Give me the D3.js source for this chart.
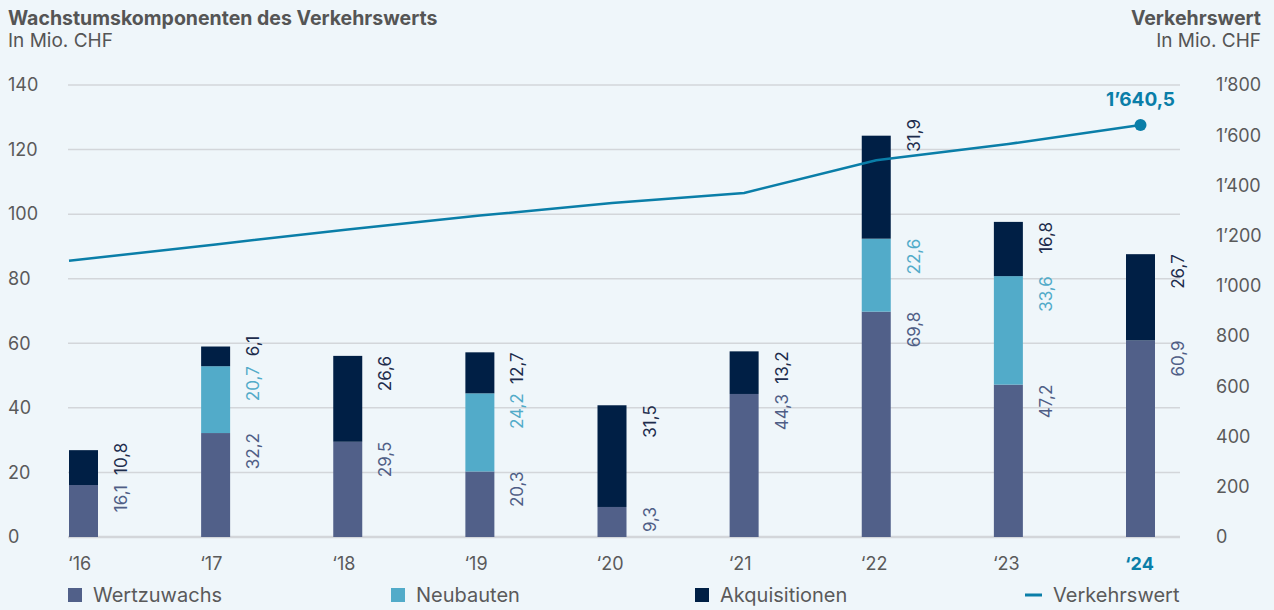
<!DOCTYPE html>
<html>
<head>
<meta charset="utf-8">
<script src="https://cdn.jsdelivr.net/npm/d3@7"></script>
<style>
  html, body { margin: 0; padding: 0; background: #eff6fa; }
  svg { display: block; font-family: Inter, "Noto Sans", sans-serif; }
</style>
</head>
<body>
<svg id="chart" width="1274" height="610"></svg>
<script>
// ---------- data ----------
const years = ["‘16", "‘17", "‘18", "‘19", "‘20", "‘21", "‘22", "‘23", "‘24"];
const wertzuwachs   = [16.1, 32.2, 29.5, 20.3, 9.3, 44.3, 69.8, 47.2, 60.9];
const neubauten     = [0, 20.7, 0, 24.2, 0, 0, 22.6, 33.6, 0];
const akquisitionen = [10.8, 6.1, 26.6, 12.7, 31.5, 13.2, 31.9, 16.8, 26.7];
const verkehrswert  = [1100, 1165, 1225, 1280, 1330, 1370, 1500, 1565, 1640.5];
const leftTicks  = [0, 20, 40, 60, 80, 100, 120, 140];
const rightTicks = [0, 200, 400, 600, 800, 1000, 1200, 1400, 1600, 1800];
const seriesNames = ["Wertzuwachs", "Neubauten", "Akquisitionen", "Verkehrswert"];

// ---------- styles ----------
const C = {
  wert: "#516089", neu: "#52abc9", akq: "#001f45", line: "#0a7ea8",
  text: "#5a5a5a", title: "#555555", grid: "#d3d6da",
  lblWert: "#4f5e86", lblNeu: "#52abc9", lblAkq: "#1d2c4c"
};
const locale = d3.formatLocale({ decimal: ",", thousands: "’", grouping: [3], currency: ["", ""] });
const fmtThousands = locale.format(",d");
const fmt1 = locale.format(".1f");
const fmtLine = locale.format(",.1f");

const svg = d3.select("#chart");
const plotL = 68, plotR = 1180, y0 = 537, yTop = 85;
const bw = 29;

const x = d3.scalePoint().domain(years).range([69, 1126]);
const yL = d3.scaleLinear().domain([0, 140]).range([y0, yTop]);
const yR = d3.scaleLinear().domain([0, 1800]).range([y0, yTop]);

// titles
svg.append("text").attr("x", 8).attr("y", 25).attr("font-size", 19.5).attr("font-weight", 700)
  .attr("fill", C.title).text("Wachstumskomponenten des Verkehrswerts");
svg.append("text").attr("x", 8).attr("y", 47).attr("font-size", 19)
  .attr("fill", C.title).text("In Mio. CHF");
svg.append("text").attr("x", 1261).attr("y", 25).attr("font-size", 19.5).attr("font-weight", 700)
  .attr("text-anchor", "end").attr("fill", C.title).text("Verkehrswert");
svg.append("text").attr("x", 1261).attr("y", 47).attr("font-size", 19)
  .attr("text-anchor", "end").attr("fill", C.title).text("In Mio. CHF");

// gridlines + left axis
const gl = svg.append("g");
leftTicks.forEach(t => {
  gl.append("line").attr("x1", plotL).attr("x2", plotR)
    .attr("y1", yL(t)).attr("y2", yL(t))
    .attr("stroke", C.grid).attr("stroke-width", t === 0 ? 2.5 : 1.5);
  gl.append("text").attr("x", 8).attr("y", yL(t)).attr("dy", "0.35em")
    .attr("font-size", 18).attr("fill", C.text).text(t);
});
rightTicks.forEach(t => {
  gl.append("text").attr("x", 1216).attr("y", yR(t)).attr("dy", "0.35em")
    .attr("font-size", 18).attr("fill", C.text).text(fmtThousands(t));
});

// x labels
years.forEach((yr, i) => {
  const last = i === years.length - 1;
  svg.append("text").attr("x", x(yr) - 1).attr("y", 570)
    .attr("font-size", 18).attr("font-weight", last ? 700 : 400)
    .attr("fill", last ? C.line : C.text).text(yr);
});

// stacked bars
const stackData = years.map((yr, i) => ({ yr, w: wertzuwachs[i], n: neubauten[i], a: akquisitionen[i] }));
const stack = d3.stack().keys(["w", "n", "a"])(stackData);
const colors = { w: C.wert, n: C.neu, a: C.akq };
const lblColors = { w: C.lblWert, n: C.lblNeu, a: C.lblAkq };
stack.forEach(layer => {
  svg.append("g").selectAll("rect").data(layer).join("rect")
    .attr("x", d => x(d.data.yr)).attr("width", bw)
    .attr("y", d => yL(d[1])).attr("height", d => yL(d[0]) - yL(d[1]))
    .attr("fill", colors[layer.key]);
});

// line
const linePts = years.map((yr, i) => [i === 0 ? x(yr) : x(yr) + bw / 2, yR(verkehrswert[i])]);
svg.append("path").attr("d", d3.line()(linePts))
  .attr("fill", "none").attr("stroke", C.line).attr("stroke-width", 2.5);
const lp = linePts[linePts.length - 1];
svg.append("circle").attr("cx", lp[0]).attr("cy", lp[1]).attr("r", 6).attr("fill", C.line);
svg.append("text").attr("x", lp[0]).attr("y", lp[1] - 19).attr("text-anchor", "middle")
  .attr("font-size", 19).attr("font-weight", 700).attr("fill", C.line)
  .text(fmtLine(verkehrswert[verkehrswert.length - 1]));

function lineYAt(px) {
  for (let k = 0; k < linePts.length - 1; k++) {
    const a = linePts[k], b = linePts[k + 1];
    if (px >= a[0] && px <= b[0]) return a[1] + (b[1] - a[1]) * (px - a[0]) / (b[0] - a[0]);
  }
  return null;
}

// value labels (rotated)
const lblG = svg.append("g");
stackData.forEach((d, i) => {
  const cx = x(d.yr) + bw + 23;
  let prevEnd = Infinity;
  stack.forEach(layer => {
    const seg = layer[i];
    const v = seg[1] - seg[0];
    if (v <= 0) return;
    const t = lblG.append("text").attr("font-size", 17).attr("fill", lblColors[layer.key])
      .attr("text-anchor", "end").attr("dominant-baseline", "central").text(fmt1(v));
    const len = t.node().getComputedTextLength();
    let end = yL(seg[1]);
    let start = end + len;
    if (prevEnd - start < 5) { start = prevEnd - 10; end = start - len; }
    const ly = lineYAt(cx);
    if (ly !== null && ly > end - 3 && ly < start + 3) { start = ly - 4; end = start - len; }
    t.attr("transform", `translate(${cx},${end}) rotate(-90)`);
    prevEnd = end;
  });
});

// legend
const lg = svg.append("g");
const legendX = [68, 391, 695, 1025];
const legendColors = [C.wert, C.neu, C.akq, C.line];
seriesNames.forEach((name, k) => {
  const lx = legendX[k];
  if (k < 3) {
    lg.append("rect").attr("x", lx).attr("y", 588).attr("width", 14).attr("height", 14).attr("fill", legendColors[k]);
    lg.append("text").attr("x", lx + 25).attr("y", 595).attr("dy", "0.35em")
      .attr("font-size", 20).attr("fill", C.text).text(name);
  } else {
    lg.append("line").attr("x1", lx).attr("x2", lx + 17).attr("y1", 595).attr("y2", 595)
      .attr("stroke", C.line).attr("stroke-width", 3);
    lg.append("text").attr("x", lx + 28).attr("y", 595).attr("dy", "0.35em")
      .attr("font-size", 20).attr("fill", C.text).text(name);
  }
});
</script>
</body>
</html>
